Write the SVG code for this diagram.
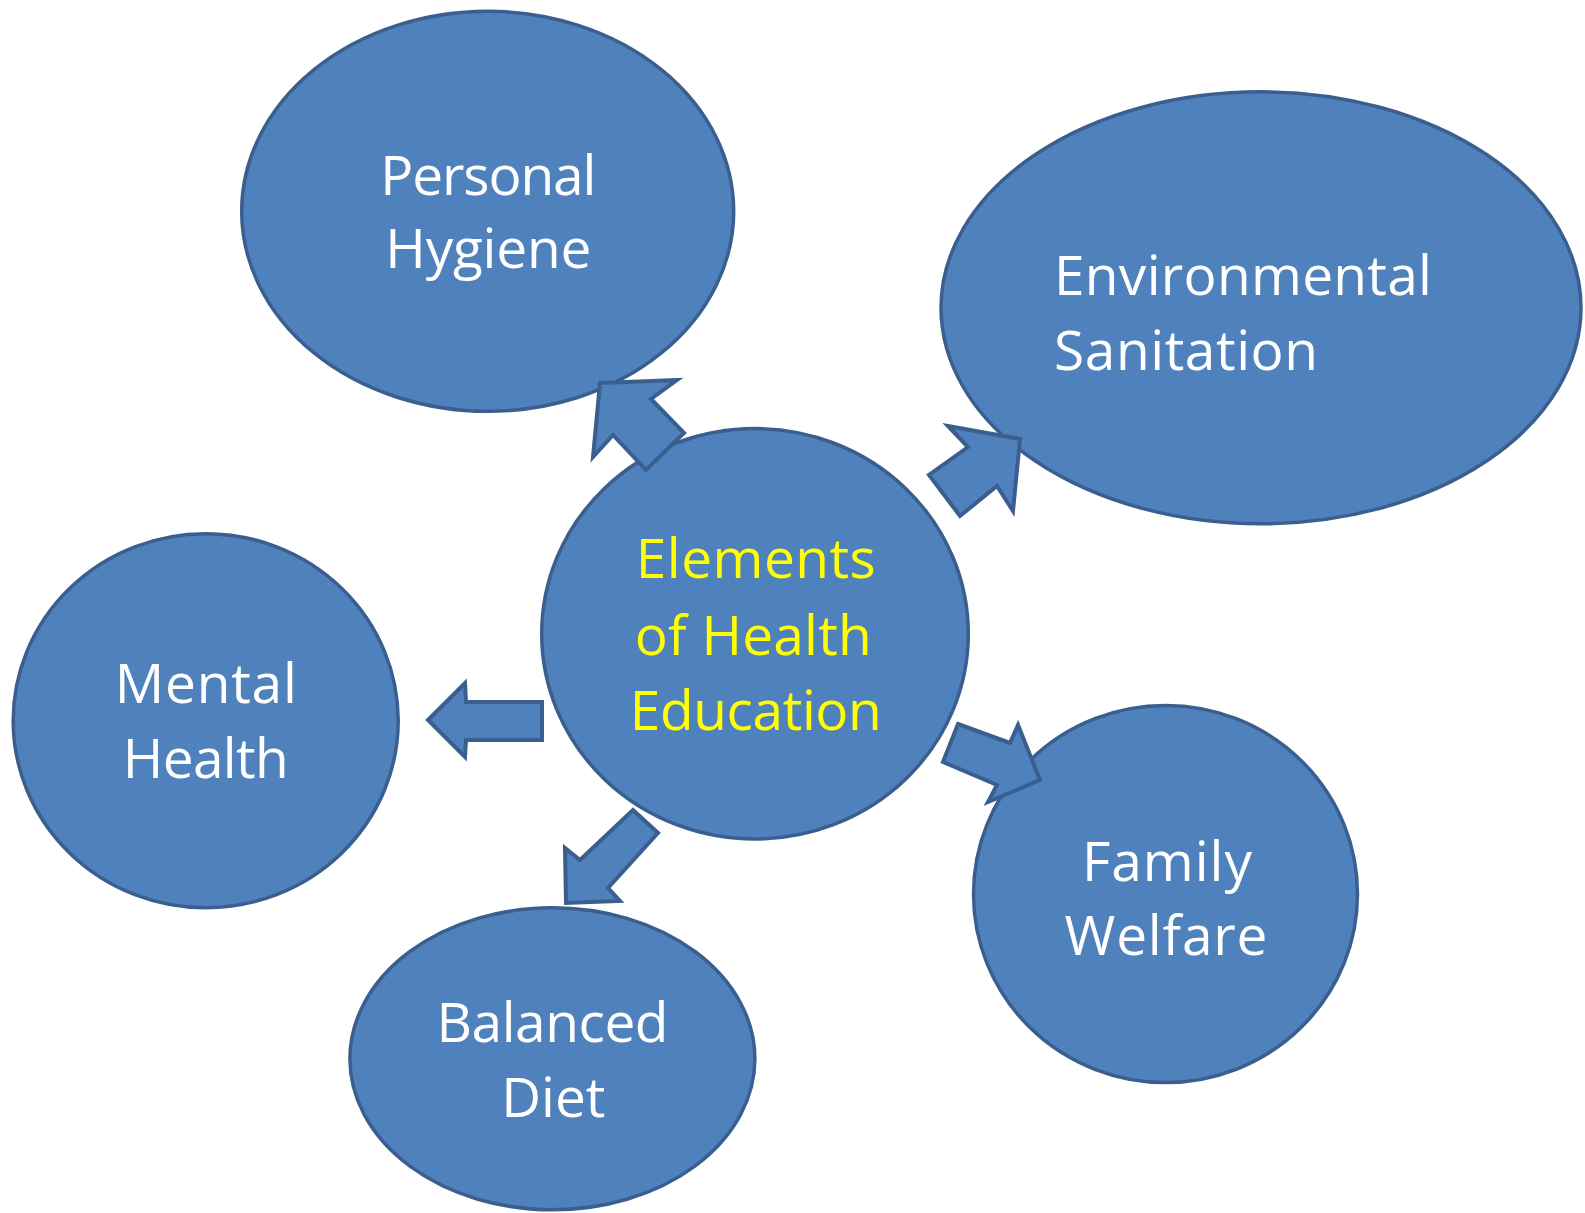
<svg xmlns="http://www.w3.org/2000/svg" width="1585" height="1213" viewBox="0 0 1585 1213">
  <style>
    .node { fill: #4F81BD; stroke: #3A5F8E; stroke-width: 3.5; }
    .arrow { fill: #4F81BD; stroke: #3A5F8E; stroke-width: 4; stroke-linejoin: miter; }
    .label { font-family: "Open Sans", "Liberation Sans", sans-serif; font-size: 55px; fill: #FFFFFF; }
    .mid { text-anchor: middle; }
    .hub { fill: #FFFF00; }
  </style>
  <rect width="1585" height="1213" fill="#FFFFFF"/>

  <g id="personal-hygiene">
    <ellipse class="node" cx="487.7" cy="211.3" rx="246" ry="200"/>
    <text class="label mid" x="488.3" y="195" textLength="216">Personal</text>
    <text class="label mid" x="488.3" y="268" textLength="206">Hygiene</text>
  </g>

  <g id="environmental-sanitation">
    <ellipse class="node" cx="1261" cy="307.8" rx="320" ry="216"/>
    <text class="label" x="1054" y="295" textLength="378">Environmental</text>
    <text class="label" x="1054" y="370" textLength="264">Sanitation</text>
  </g>

  <g id="mental-health">
    <ellipse class="node" cx="205.7" cy="720.7" rx="192.5" ry="187"/>
    <text class="label mid" x="205.8" y="703" textLength="182">Mental</text>
    <text class="label mid" x="205.8" y="778" textLength="166">Health</text>
  </g>

  <g id="balanced-diet">
    <ellipse class="node" cx="552.4" cy="1058.8" rx="202.5" ry="151"/>
    <text class="label mid" x="552.5" y="1042" textLength="232">Balanced</text>
    <text class="label mid" x="553.3" y="1117" textLength="104">Diet</text>
  </g>

  <g id="family-welfare">
    <ellipse class="node" cx="1165.5" cy="894" rx="192" ry="188.5"/>
    <text class="label mid" x="1167" y="881" textLength="170">Family</text>
    <text class="label mid" x="1166" y="955" textLength="203">Welfare</text>
  </g>

  <g id="health-education">
    <ellipse class="node" cx="755" cy="633.8" rx="213.3" ry="205.2"/>
    <text class="label mid hub" x="755.8" y="578" textLength="240">Elements</text>
    <text class="label mid hub" x="753.3" y="655" textLength="237">of Health</text>
    <text class="label mid hub" x="755.8" y="730" textLength="252">Education</text>
  </g>

  <!-- block arrows from the hub out to each element -->
  <g id="connectors">
    <polygon class="arrow" points="600,383 677,380 651,399 684,433 646,470 613,435 593,457"/>
    <polygon class="arrow" points="948,426 1020,439 1013,511 997,486 960,516 929,475 968,447"/>
    <polygon class="arrow" points="428,720 465,683 466,702 542,702 542,740 466,740 465,757"/>
    <polygon class="arrow" points="566,903 565,848 580,860 633,810 658,833 608,888 620,901"/>
    <polygon class="arrow" points="958,724 1010,743 1018,725 1040,780 988,802 997,785 943,762"/>
  </g>
</svg>
